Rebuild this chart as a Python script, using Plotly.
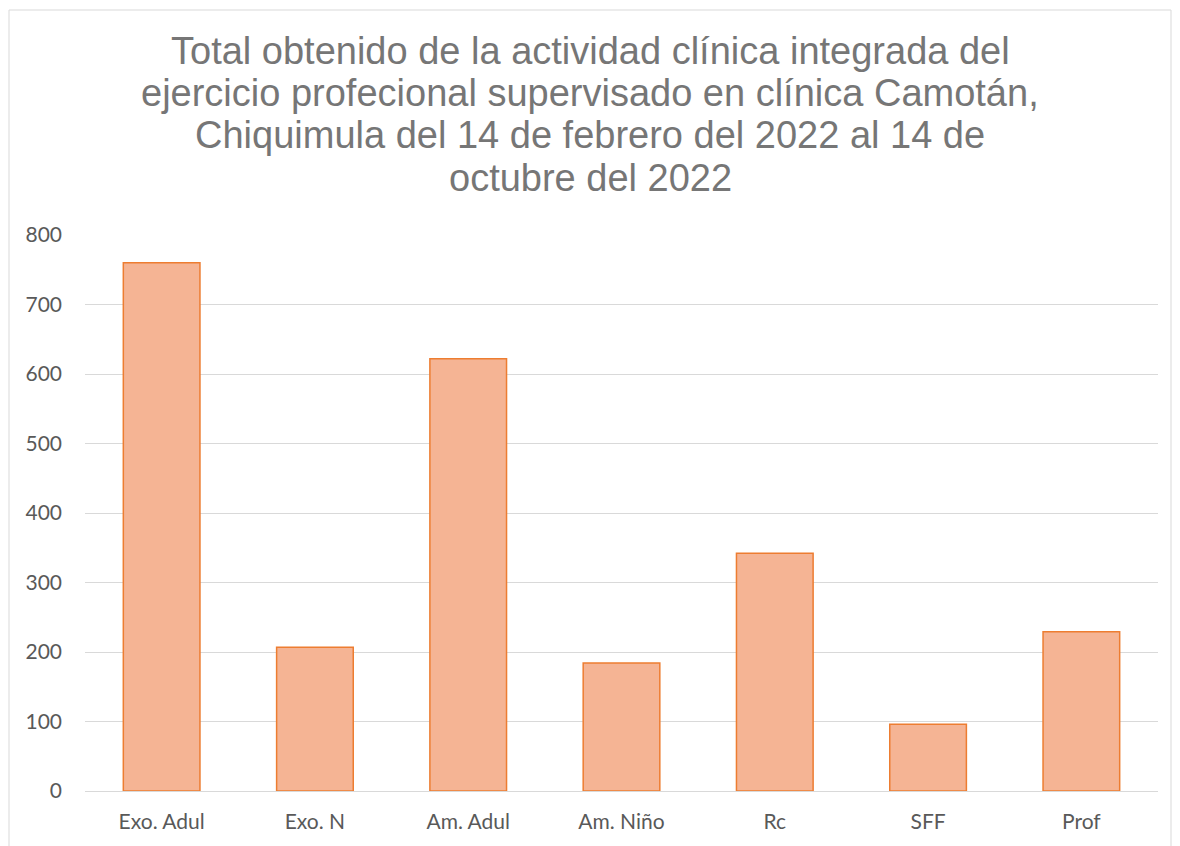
import plotly.graph_objects as go

categories = ["Exo. Adul", "Exo. N", "Am. Adul", "Am. Niño", "Rc", "SFF", "Prof"]
values = [760, 207, 622, 184, 342, 96, 229]
y_ticks = [0, 100, 200, 300, 400, 500, 600, 700, 800]

title_lines = [
    "Total obtenido de la actividad clínica integrada del",
    "ejercicio profecional supervisado en clínica Camotán,",
    "Chiquimula del 14 de febrero del 2022 al 14 de",
    "octubre del 2022",
]

OFF = 8  # page body margin
W, H = 1180 - OFF, 846 - OFF
L = 85 - OFF
T = 235 - OFF
R = 22
B = H - (791 - OFF)
pw, ph = W - L - R, H - T - B

fig = go.Figure()
fig.add_trace(go.Bar(
    x=categories, y=values,
    marker=dict(color="#F5B494", line=dict(color="#ED7D31", width=1.5)),
))

title_font = dict(family="Liberation Sans, Arial", size=38, color="#767676")
baselines = [65, 107, 149, 192]
annotations = []
for line, bl in zip(title_lines, baselines):
    yc = bl - OFF - 0.36 * title_font["size"]
    annotations.append(dict(
        text=line, xref="paper", yref="paper",
        x=(590 - OFF - L) / pw, xanchor="center",
        y=(H - B - yc) / ph, yanchor="middle",
        showarrow=False, font=title_font,
    ))

fig.update_layout(
    width=W, height=H,
    margin=dict(l=L, r=R, t=T, b=B, autoexpand=False),
    paper_bgcolor="white", plot_bgcolor="white",
    bargap=0.5,
    showlegend=False,
    annotations=annotations,
    font=dict(family="Lato, Carlito, Calibri, sans-serif", size=21, color="#595959"),
    xaxis=dict(showgrid=False, showline=True, linecolor="#D9D9D9", linewidth=1,
               automargin=False,
               ticks="", ticklabelstandoff=12, tickfont=dict(size=21, color="#595959")),
    yaxis=dict(range=[0, 800], tickvals=y_ticks, showgrid=True, gridcolor="#D9D9D9",
               gridwidth=1, zeroline=False, showline=False, ticks="", automargin=False,
               ticklabelstandoff=22, tickfont=dict(size=21, color="#595959")),
    shapes=[dict(type="rect", xref="paper", yref="paper",
                 x0=(9 - OFF - L) / pw, x1=(1171 - OFF - L) / pw,
                 y0=-0.2, y1=(H - B - (10 - OFF)) / ph,
                 line=dict(color="#D9D9D9", width=1), fillcolor="rgba(0,0,0,0)", layer="below")],
)

fig.write_html("out.html")
